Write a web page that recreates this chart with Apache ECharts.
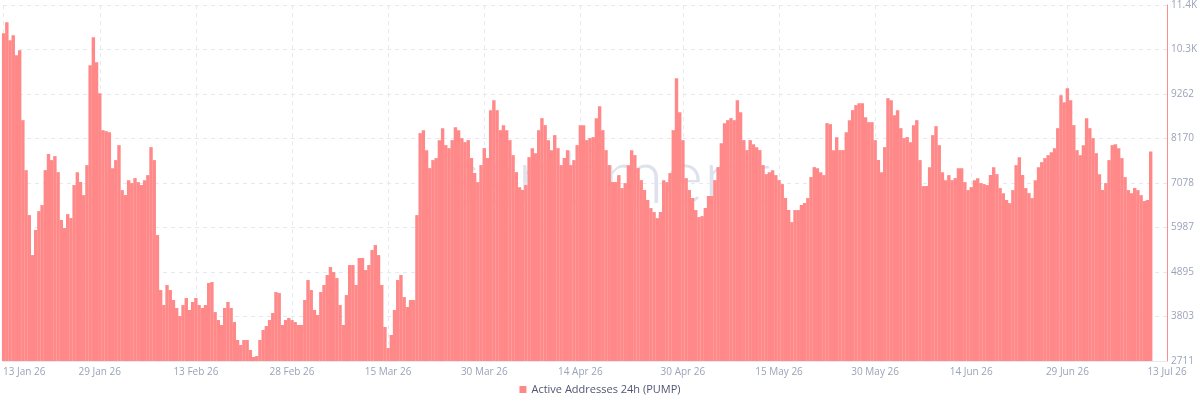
<!DOCTYPE html>
<html>
<head>
<meta charset="utf-8">
<script src="https://cdn.jsdelivr.net/npm/echarts@6/dist/echarts.min.js"></script>
<style>
  html, body { margin: 0; padding: 0; background: #fff; }
  #chart { width: 1200px; height: 406px; }
</style>
</head>
<body>
<div id="chart"></div>
<script>
'use strict';
// Active addresses 24h (PUMP), one reading every 12h from 14 Jan 26 00:00 UTC
const seriesName = 'Active Addresses 24h (PUMP)';
const firstPoint = Date.UTC(2026, 0, 14, 0, 0);
const stepMs = 12 * 3600 * 1000;
const activeAddresses = [
  10754, 11023, 10582, 10705, 10214, 10337, 8620, 7394, 6291, 5310,
  5923, 6389, 6536, 7394, 7787, 7640, 7738, 7345, 6168, 5972,
  6315, 6217, 7027, 7345, 7100, 6781, 7517, 9969, 10655, 10042,
  9282, 8375, 8350, 8326, 7443, 7640, 8007, 6904, 6781, 7149,
  7076, 7198, 7100, 7027, 7149, 7272, 7958, 7640, 5801, 4452,
  4084, 4575, 4452, 4207, 4011, 3814, 4084, 4256, 3962, 4158,
  4256, 4084, 4011, 4084, 4624, 4648, 3912, 3716, 3594, 4011,
  4158, 4011, 3667, 3226, 3103, 3226, 3226, 2981, 2809, 2834,
  3226, 3471, 3569, 3716, 3888, 4403, 4378, 3594, 3716, 3765,
  3716, 3667, 3594, 3594, 4207, 4697, 4452, 3962, 3839, 4403,
  4575, 4820, 5016, 4893, 4746, 4084, 3594, 4329, 5065, 5065,
  4575, 5237, 5237, 4942, 5065, 5433, 5555, 5310, 4575, 3545,
  3030, 3349, 3962, 4697, 4820, 4280, 4035, 4207, 4207, 6291,
  8302, 8375, 7885, 7443, 7640, 7689, 8130, 8424, 8007, 7934,
  8130, 8449, 8375, 8179, 8081, 8130, 7689, 7321, 7100, 7517,
  7934, 7689, 8866, 9111, 8866, 8375, 8498, 8375, 8130, 7762,
  7345, 6977, 6904, 7027, 7713, 7934, 7811, 8375, 8669, 8498,
  8130, 7885, 8253, 7934, 7517, 7689, 7885, 7517, 7640, 8007,
  8498, 8498, 8130, 8179, 8204, 8669, 8964, 8375, 7885, 7517,
  7100, 7100, 7272, 6953, 7076, 7517, 7885, 7762, 7443, 7149,
  6904, 6659, 6463, 6364, 6217, 6364, 7149, 7100, 7321, 8375,
  9650, 8816, 8130, 7198, 6904, 6708, 6414, 6242, 6266, 6463,
  6757, 6757, 7149, 7468, 8056, 8547, 8620, 8669, 8620, 9111,
  8816, 8130, 7885, 8130, 8032, 7958, 7885, 7517, 7296, 7345,
  7394, 7272, 7149, 7051, 6708, 6414, 6119, 6414, 6414, 6536,
  6585, 6708, 7223, 7468, 7443, 7345, 7272, 8547, 8522, 7885,
  8203, 7885, 7885, 8326, 8620, 8866, 8988, 9037, 9037, 8694,
  8571, 8571, 8130, 7640, 7345, 7958, 9160, 9111, 8743, 8866,
  8424, 8179, 8204, 8081, 8498, 8620, 7640, 7002, 7002, 7468,
  8253, 8473, 8007, 7345, 7149, 7272, 7149, 7198, 7443, 7443,
  7100, 6904, 6977, 7149, 7198, 7076, 7051, 7027, 7272, 7468,
  7296, 6953, 6830, 6659, 6585, 6904, 7517, 7713, 7272, 6953,
  6830, 6708, 7149, 7468, 7590, 7689, 7762, 7836, 7934, 8424,
  9233, 9062, 9405, 9111, 8498, 7885, 7762, 8007, 8669, 8424,
  8179, 7811, 7296, 6904, 7076, 7640, 8007, 8032, 7934, 7689,
  7223, 6904, 6830, 6953, 6904, 6781, 6635, 6659, 7849
];
const lastValue = 7849;

// axis labels as printed on the chart
const xLabels = ['13 Jan 26', '29 Jan 26', '13 Feb 26', '28 Feb 26', '15 Mar 26', '30 Mar 26',
  '14 Apr 26', '30 Apr 26', '15 May 26', '30 May 26', '14 Jun 26', '29 Jun 26', '13 Jul 26'];
const yLabels = ['2711', '3803', '4895', '5987', '7078', '8170', '9262', '10.3K', '11.4K'];
const yMin = 2711, yMax = 11446;

// ---- helpers ------------------------------------------------------------- //
const DAY = 86400000;
const MONTHS = ['Jan', 'Feb', 'Mar', 'Apr', 'May', 'Jun', 'Jul', 'Aug', 'Sep', 'Oct', 'Nov', 'Dec'];
const parseLabel = (s) => { const [d, m, y] = s.split(' '); return Date.UTC(2000 + +y, MONTHS.indexOf(m), +d); };
const base = Date.UTC(2026, 0, 13);
const xMin = base + 0.90 * DAY;     // left edge of the plot
const xMax = base + 182.56 * DAY;   // right edge (axis line)
const tickVals = xLabels.map((s, i) => (i === 0 ? xMin : i === xLabels.length - 1 ? xMax : parseLabel(s)));
const data = activeAddresses.map((v, i) => [firstPoint + i * stepMs, v]);

const RED = '#ff5b5b';
const BAR = '#ff8888';
const GRID = '#e7e9f0';
const MUTED = '#9aa3b8';
const FONT = 'Open Sans';

const chart = echarts.init(document.getElementById('chart'), null, { renderer: 'canvas' });
chart.setOption({
  animation: false,
  textStyle: { fontFamily: FONT },
  grid: { left: 0, right: 32, top: 5, bottom: 45, containLabel: false },
  graphic: [{
    type: 'text', left: 448, top: 140, z: 0, silent: true,
    style: { text: 'santiment', fontSize: 76, fontFamily: 'Lato', fontWeight: 300, fill: '#dde2ec' },
  }],
  legend: {
    bottom: 6, left: 'center', icon: 'rect', itemWidth: 7, itemHeight: 7, itemGap: 5,
    textStyle: { color: '#505573', fontSize: 11, fontFamily: FONT },
    data: [seriesName],
  },
  xAxis: {
    type: 'value', min: xMin, max: xMax,
    axisLine: { show: true, lineStyle: { color: GRID } },
    axisTick: { show: false, customValues: tickVals },
    axisLabel: {
      customValues: tickVals, color: MUTED, fontSize: 10, margin: 6,
      alignMinLabel: 'left', showMinLabel: true, showMaxLabel: true,
      formatter: (v) => { const k = tickVals.indexOf(v); return k >= 0 ? xLabels[k] : ''; },
    },
    splitLine: { show: true, lineStyle: { color: GRID, type: [4, 4] } },
  },
  yAxis: {
    type: 'value', position: 'right', min: yMin, max: yMax, interval: (yMax - yMin) / 8,
    axisLine: { show: true, lineStyle: { color: '#ff8a8a' } },
    axisTick: { show: false },
    axisLabel: { color: MUTED, fontSize: 10, margin: 4, formatter: (v, i) => yLabels[i] },
    splitLine: { show: true, lineStyle: { color: GRID, type: [4, 4] } },
  },
  series: [{
    name: seriesName, type: 'bar', data: data, z: 2,
    barWidth: 3.4,
    itemStyle: { color: BAR },
    markLine: {
      silent: true, symbol: 'none',
      lineStyle: { opacity: 0 },
      label: {
        position: 'end', formatter: String(lastValue), distance: 4,
        backgroundColor: RED, color: '#fff', fontSize: 10, padding: [2, 3, 1, 3], fontFamily: FONT,
      },
      data: [{ yAxis: lastValue }],
    },
  }],
});
</script>
</body>
</html>
